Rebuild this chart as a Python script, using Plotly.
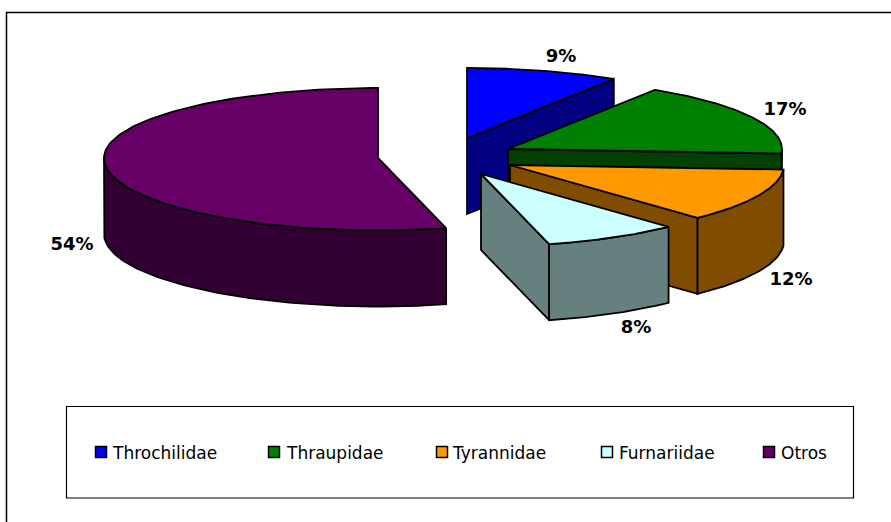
import numpy as np
import plotly.graph_objects as go

# Data
families = ["Throchilidae", "Thraupidae", "Tyrannidae", "Furnariidae", "Otros"]
percent = [9, 17, 12, 8, 54]

# Styles
top_colors = ["#0000FF", "#008000", "#FF9900", "#CCFFFF", "#660066"]
side_colors = ["#000080", "#004000", "#804C00", "#668080", "#330033"]
# apex of each exploded slice on the 891x522 canvas
apex_x = [467, 508, 510, 481, 378]
apex_y = [138, 149, 165, 174, 158]
RX, RY_BACK, RY_FRONT, DEPTH = 274, 70, 72.5, 76
draw_order = [0, 1, 4, 2, 3]
label_x = [561, 785, 791, 636, 72]
label_y = [57, 110, 280, 328, 245]
swatch_x = [101, 274, 442, 607, 769]
legend_text_x = [113, 287, 453, 619, 781]
LEGEND_Y = 452
OUTLINE = dict(color="black", width=1.8)

cum = np.cumsum([0] + percent)
start_deg = cum[:-1] * 3.6
end_deg = cum[1:] * 3.6


def pt(i, deg, dz=0.0):
    a = np.radians(deg)
    c = np.cos(a)
    ry = np.where(c < 0, RY_FRONT, RY_BACK)  # perspective: the near half looks deeper
    return apex_x[i] + RX * np.sin(a), apex_y[i] - ry * c + dz


def poly(xs, ys, fill, name):
    xs, ys = list(xs), list(ys)
    return go.Scatter(x=xs + [xs[0]], y=ys + [ys[0]], mode="lines", fill="toself",
                      fillcolor=fill, line=OUTLINE, name=name, showlegend=False,
                      hoverinfo="name")


fig = go.Figure()

for i in draw_order:
    s, e = start_deg[i], end_deg[i]
    name = families[i]
    # radial wall at the clockwise end of the slice (not visible on the big back slice)
    if i != 4:
        ex, ey = pt(i, e)
        fig.add_trace(poly([apex_x[i], ex, ex, apex_x[i]],
                           [apex_y[i], ey, ey + DEPTH, apex_y[i] + DEPTH],
                           side_colors[i], name))
    # outer rim: only the front half of the ellipse faces the viewer
    rs, re = max(s, 90), min(e, 270)
    if re > rs:
        ang = np.linspace(rs, re, 70)
        tx, ty = pt(i, ang)
        bx, by = pt(i, ang, DEPTH)
        fig.add_trace(poly(list(tx) + list(bx[::-1]), list(ty) + list(by[::-1]),
                           side_colors[i], name))
    # top face
    ang = np.linspace(s, e, 140)
    tx, ty = pt(i, ang)
    fig.add_trace(poly([apex_x[i]] + list(tx), [apex_y[i]] + list(ty), top_colors[i], name))

# Percent labels
fig.add_trace(go.Scatter(x=label_x, y=label_y, mode="text",
                         text=[f"{v}%" for v in percent], textposition="middle center",
                         textfont=dict(family="DejaVu Sans", size=18, color="black", weight="bold"),
                         showlegend=False, hoverinfo="skip"))

# Legend entries
fig.add_trace(go.Scatter(x=swatch_x, y=[LEGEND_Y] * 5, mode="markers",
                         marker=dict(symbol="square", size=11, color=top_colors,
                                     line=dict(color="black", width=1.5)),
                         showlegend=False, hoverinfo="skip"))
fig.add_trace(go.Scatter(x=legend_text_x, y=[LEGEND_Y + 3] * 5, mode="text", text=families,
                         textposition="middle right",
                         textfont=dict(family="DejaVu Sans", size=17, color="black"),
                         showlegend=False, hoverinfo="skip"))

shapes = [
    dict(type="rect", x0=6.5, y0=12.5, x1=910, y1=540, line=dict(color="black", width=1.5), layer="below"),
    dict(type="rect", x0=66.5, y0=406.5, x1=853.5, y1=498, line=dict(color="black", width=1.2), layer="below"),
]

fig.update_layout(
    width=891, height=522, margin=dict(l=0, r=0, t=0, b=0),
    paper_bgcolor="white", plot_bgcolor="white", shapes=shapes,
    xaxis=dict(range=[0, 891], visible=False, fixedrange=True),
    yaxis=dict(range=[522, 0], visible=False, fixedrange=True),
)
fig.write_html("out.html", config={"displayModeBar": False},
               post_script="document.body.style.margin='0';")
